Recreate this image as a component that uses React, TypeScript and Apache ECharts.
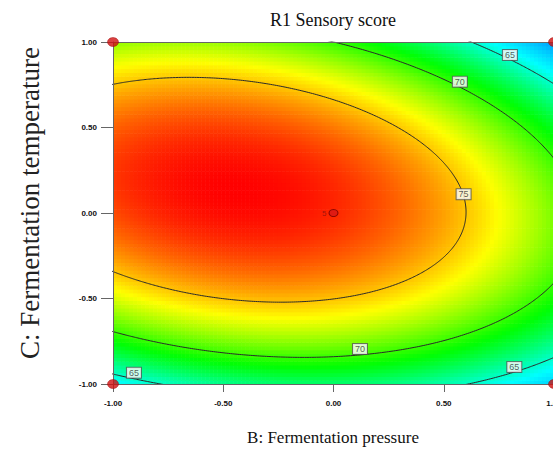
import React, { useEffect, useRef } from 'react';
import * as echarts from 'echarts';

// Fitted quadratic response-surface model (coded units B, C)
const modelTerms = ['Intercept', 'B', 'C', 'BC', 'B^2', 'C^2'];
const modelCoefs = [78.28, -3.13, 1.576, -2.46, -3.87, -9.85];

const contourLevels = [65, 70, 75];
const tickValues = [-1, -0.5, 0, 0.5, 1];

// contour label boxes
const labelLevels = [65, 70, 75, 70, 65, 65];
const labelB = [0.8, 0.573, 0.59, 0.12, 0.82, -0.905];
const labelC = [0.924, 0.768, 0.11, -0.795, -0.9, -0.934];

// design points
const factorialB = [-1, 1, -1, 1];
const factorialC = [1, 1, -1, -1];
const centerB = [0];
const centerC = [0];
const centerReplicates = [5];

// colour ramp: response value at each colour stop
const rampValues = [55, 64, 69, 73.8, 79.1];
const rampColors = [[0, 0, 255], [0, 255, 255], [0, 255, 0], [255, 255, 0], [255, 0, 0]];

const cellsX = 110;
const cellsY = 90;

function model(b: number, c: number): number {
  const [b0, bB, bC, bBC, bBB, bCC] = modelCoefs;
  return b0 + bB * b + bC * c + bBC * b * c + bBB * b * b + bCC * c * c;
}

function rampColorAt(v: number): string {
  let k = 0;
  while (k < rampValues.length - 2 && v > rampValues[k + 1]) k++;
  const t = Math.max(0, Math.min(1, (v - rampValues[k]) / (rampValues[k + 1] - rampValues[k])));
  const a = rampColors[k];
  const b = rampColors[k + 1];
  const c = a.map((x, i) => Math.round(x + (b[i] - x) * t));
  return `rgb(${c[0]},${c[1]},${c[2]})`;
}

function contourPath(L: number): number[][] {
  const [b0, bB, bC, bBC, bBB, bCC] = modelCoefs;
  const disc = (x: number) => {
    const A = b0 + bB * x + bBB * x * x - L;
    const Bx = bC + bBC * x;
    return Bx * Bx - 4 * bCC * A;
  };
  const qa = bBC * bBC - 4 * bCC * bBB;
  const qb = 2 * bC * bBC - 4 * bCC * bB;
  const qc = bC * bC - 4 * bCC * (b0 - L);
  const d = qb * qb - 4 * qa * qc;
  if (d < 0 || qa >= 0) return [];
  const r1 = (-qb + Math.sqrt(d)) / (2 * qa);
  const r2 = (-qb - Math.sqrt(d)) / (2 * qa);
  const xa = Math.max(-1.05, Math.min(r1, r2));
  const xb = Math.min(1.05, Math.max(r1, r2));
  if (xa >= xb) return [];
  const N = 300;
  const upper: number[][] = [];
  const lower: number[][] = [];
  for (let i = 0; i <= N; i++) {
    const t = i / N;
    const x = (xa + xb) / 2 - ((xb - xa) / 2) * Math.cos(Math.PI * t);
    const D = Math.max(0, disc(x));
    const Bx = bC + bBC * x;
    const y1 = (-Bx + Math.sqrt(D)) / (2 * bCC);
    const y2 = (-Bx - Math.sqrt(D)) / (2 * bCC);
    upper.push([x, Math.max(y1, y2)]);
    lower.push([x, Math.min(y1, y2)]);
  }
  return upper.concat(lower.reverse());
}

export default function App() {
  const ref = useRef<HTMLDivElement>(null);

  useEffect(() => {
    if (!ref.current) return;
    const chart = echarts.init(ref.current, undefined, { renderer: 'svg' });

    const hx = 1 / cellsX;
    const hy = 1 / cellsY;
    const cells: number[][] = [];
    for (let i = 0; i < cellsX; i++) {
      for (let j = 0; j < cellsY; j++) {
        const x = -1 + (2 * (i + 0.5)) / cellsX;
        const y = -1 + (2 * (j + 0.5)) / cellsY;
        cells.push([x, y, model(x, y)]);
      }
    }

    // evenly spaced colour list for the continuous visualMap
    const vmMin = rampValues[0];
    const vmMax = rampValues[rampValues.length - 1];
    const nColors = 60;
    const vmColors: string[] = [];
    for (let i = 0; i < nColors; i++) vmColors.push(rampColorAt(vmMin + ((vmMax - vmMin) * i) / (nColors - 1)));

    const fmt = (v: number) => v.toFixed(2);
    const tickFont = { fontSize: 8, fontWeight: 'bold' as const, fontFamily: 'Liberation Sans', color: '#111' };
    const axisLineStyle = { show: true, onZero: false, lineStyle: { color: '#666', width: 1 } };

    const contourSeries = contourLevels.map((L) => ({
      type: 'line',
      name: 'contour ' + L,
      data: contourPath(L),
      showSymbol: false,
      symbol: 'none',
      smooth: false,
      clip: true,
      lineStyle: { color: '#2a2a2a', width: 1 },
      z: 5,
      silent: true,
    }));

    const option: any = {
      animation: false,
      grid: { left: 113, top: 42, width: 441, height: 342, outerBoundsMode: 'none', containLabel: false },
      xAxis: [
        {
          type: 'value', min: -1, max: 1, interval: 0.5, position: 'bottom', z: 10,
          axisLine: axisLineStyle,
          axisTick: { show: true, length: 8, lineStyle: { color: '#666' } },
          axisLabel: { ...tickFont, margin: 15, formatter: fmt },
          splitLine: { show: false },
        },
        {
          type: 'value', min: -1, max: 1, position: 'top', z: 10,
          axisLine: axisLineStyle,
          axisTick: { show: false }, axisLabel: { show: false }, splitLine: { show: false },
        },
      ],
      yAxis: [
        {
          type: 'value', min: -1, max: 1, interval: 0.5, position: 'left', z: 10,
          axisLine: axisLineStyle,
          axisTick: { show: true, length: 12, lineStyle: { color: '#666' } },
          axisLabel: { ...tickFont, margin: 16, formatter: fmt },
          splitLine: { show: false },
        },
        {
          type: 'value', min: -1, max: 1, position: 'right', z: 10,
          axisLine: axisLineStyle,
          axisTick: { show: false }, axisLabel: { show: false }, splitLine: { show: false },
        },
      ],
      visualMap: {
        type: 'continuous', show: false, seriesIndex: 0, dimension: 2,
        min: vmMin, max: vmMax, inRange: { color: vmColors },
      },
      graphic: [
        {
          type: 'text', x: 333, y: 20,
          style: { text: 'R1 Sensory score', fontSize: 18, fontFamily: 'Liberation Serif', fill: '#111', align: 'center', verticalAlign: 'middle' },
        },
        {
          type: 'text', x: 333, y: 437,
          style: { text: 'B: Fermentation pressure', fontSize: 17, fontFamily: 'Liberation Serif', fill: '#111', align: 'center', verticalAlign: 'middle' },
        },
        {
          type: 'text', x: 30, y: 203, rotation: Math.PI / 2,
          style: { text: 'C: Fermentation temperature', fontSize: 27, fontFamily: 'Liberation Serif', fill: '#222', align: 'center', verticalAlign: 'middle' },
        },
      ],
      series: [
        {
          type: 'custom',
          name: 'R1 Sensory score',
          data: cells,
          clip: true,
          silent: true,
          z: 1,
          renderItem: (params: any, api: any) => {
            const x = api.value(0);
            const y = api.value(1);
            const p0 = api.coord([x - hx, y + hy]);
            const p1 = api.coord([x + hx, y - hy]);
            return {
              type: 'rect',
              shape: { x: p0[0], y: p0[1], width: p1[0] - p0[0] + 0.6, height: p1[1] - p0[1] + 0.6 },
              style: { fill: api.visual('color') },
            };
          },
        },
        ...contourSeries,
        {
          type: 'scatter',
          name: 'contour labels',
          data: labelLevels.map((v, i) => [labelB[i], labelC[i], v]),
          symbol: 'rect',
          symbolSize: 0,
          itemStyle: { color: 'rgba(0,0,0,0)' },
          z: 8,
          silent: true,
          label: {
            show: true, position: 'inside',
            formatter: (p: any) => String(p.value[2]),
            fontSize: 9, fontFamily: 'Liberation Sans', color: '#333',
            backgroundColor: '#fff', borderColor: '#555', borderWidth: 1, padding: [1, 2, 0, 2],
          },
        },
        {
          type: 'scatter',
          name: 'factorial points',
          data: factorialB.map((b, i) => [b, factorialC[i]]),
          symbol: 'circle',
          symbolSize: [11, 9],
          clip: false,
          z: 12,
          itemStyle: { color: '#d01010', borderColor: '#900', borderWidth: 0.5 },
        },
        {
          type: 'scatter',
          name: 'center point',
          data: centerB.map((b, i) => [b, centerC[i], centerReplicates[i]]),
          symbol: 'circle',
          symbolSize: [9, 7],
          z: 12,
          itemStyle: { color: '#d81818', borderColor: '#7a0000', borderWidth: 1 },
          label: {
            show: true, position: 'left', distance: 2,
            formatter: (p: any) => String(p.value[2]),
            fontSize: 8, fontFamily: 'Liberation Sans', color: '#8b1010',
          },
        },
      ],
    };

    chart.setOption(option);
    return () => chart.dispose();
  }, []);

  return (
    <div
      ref={ref}
      style={{ position: 'fixed', left: 0, top: 0, width: 553, height: 464, overflow: 'hidden', background: '#fff' }}
    />
  );
}
